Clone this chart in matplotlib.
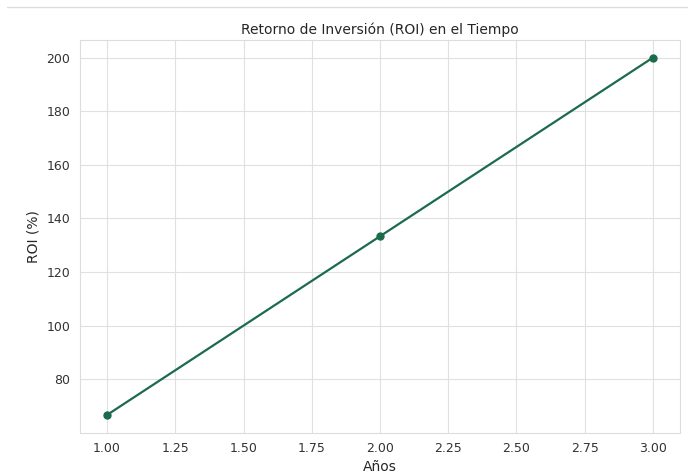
import matplotlib
matplotlib.use("Agg")
import matplotlib.pyplot as plt
import seaborn as sns
from matplotlib.lines import Line2D

sns.set_style("whitegrid")
plt.rcParams["font.family"] = ["DejaVu Sans"]

years = [1, 2, 3]
roi = [66.67, 133.33, 200.0]

fig, ax = plt.subplots(figsize=(6.94, 4.74), dpi=100)
fig.subplots_adjust(left=0.115, right=0.98, top=0.916, bottom=0.087)

ax.plot(years, roi, marker="o", color="#1b6b4c", linewidth=1.6, markersize=5)
ax.set_title("Retorno de Inversión (ROI) en el Tiempo", fontsize=10, pad=4)
ax.set_xlabel("Años", fontsize=10, labelpad=3)
ax.set_ylabel("ROI (%)", fontsize=10)
ax.tick_params(labelsize=9, colors="#333333")
ax.grid(True, color="#e0e0e0")
for s in ax.spines.values():
    s.set_color("#dddddd")

# faint line across the top of the image
fig.add_artist(Line2D([0.01, 0.99], [0.985, 0.985], transform=fig.transFigure,
                      color="#dddddd", linewidth=1))

fig.savefig("out.png", dpi=100)
